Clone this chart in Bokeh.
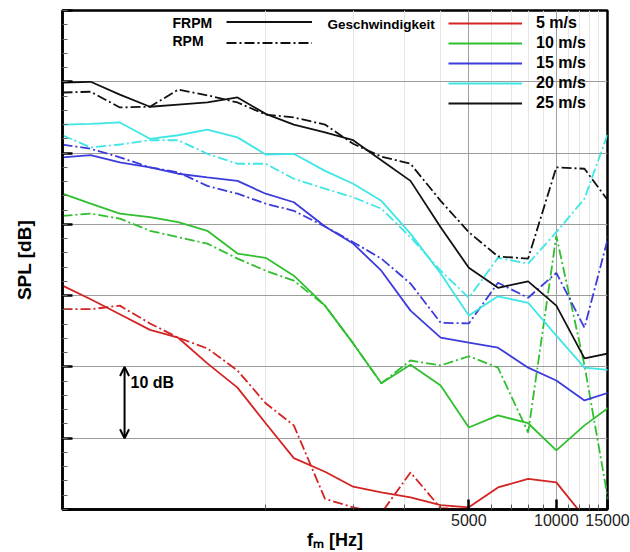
from bokeh.plotting import figure
from bokeh.models import (Range1d, FixedTicker, Label, Legend, LegendItem, Arrow, OpenHead)
from bokeh.embed import file_html
from bokeh.resources import INLINE

# third-octave band centre frequencies [Hz]
freq_hz = [200, 250, 315, 400, 500, 630, 800, 1000, 1250, 1600, 2000,
           2500, 3150, 4000, 5000, 6300, 8000, 10000, 12500, 16000]

speeds = ["5 m/s", "10 m/s", "15 m/s", "20 m/s", "25 m/s"]
colors = ["#d42323", "#2fbf2f", "#3c3cdc", "#3ee6e6", "#111111"]

# FRPM (solid) SPL [dB]
frpm_5 = [31.4, 29.5, 27.4, 25.2, 24.1, 20.5, 17.1, 12.1, 7.2, 5.3, 3.2,
          2.4, 1.7, 0.6, 0.3, 3.1, 4.3, 3.8, -1.1, -6.0]
frpm_10 = [44.3, 42.9, 41.5, 41.0, 40.3, 39.1, 35.9, 35.3, 32.8, 28.6, 23.3,
           17.7, 20.3, 17.4, 11.5, 13.2, 12.1, 8.3, 11.8, 15.0]
frpm_15 = [49.4, 49.7, 48.7, 48.0, 47.1, 46.6, 46.1, 44.3, 43.1, 39.7, 37.3,
           33.5, 27.9, 24.1, 23.4, 22.7, 19.9, 18.1, 15.3, 16.7]
frpm_20 = [54.0, 54.1, 54.3, 52.0, 52.5, 53.3, 52.2, 49.8, 49.9, 47.5, 45.7,
           43.3, 38.7, 33.1, 27.2, 29.9, 29.0, 24.4, 19.9, 19.5]
frpm_25 = [59.9, 60.0, 58.2, 56.5, 56.8, 57.1, 57.8, 55.5, 54.0, 52.9, 51.8,
           49.0, 46.1, 39.6, 33.9, 31.1, 32.0, 28.6, 21.2, 22.1]

# RPM (dash-dot) SPL [dB]
rpm_5 = [28.1, 28.1, 28.6, 26.1, 24.1, 22.6, 19.5, 14.9, 11.8, 1.5, 0.3,
         -0.5, 5.2, 0.2, 0.0, -4.0, -4.0, -4.0, -5.0, -5.0]
rpm_10 = [41.2, 41.5, 40.8, 39.1, 38.2, 37.3, 35.2, 33.5, 32.1, 28.6, 23.3,
          17.7, 20.9, 20.2, 21.5, 19.9, 10.8, 38.4, 20.2, -4.6]
rpm_15 = [51.2, 50.6, 49.4, 48.0, 47.3, 45.4, 44.3, 42.9, 41.9, 39.7, 37.5,
          35.2, 31.7, 26.2, 26.1, 31.8, 29.7, 33.2, 25.5, 42.2]
rpm_20 = [52.5, 50.8, 51.2, 51.8, 51.8, 49.9, 48.5, 48.5, 46.4, 45.0, 43.8,
          42.2, 38.2, 33.5, 29.7, 35.3, 34.5, 38.9, 43.6, 55.8]
rpm_25 = [58.5, 58.6, 56.4, 56.5, 58.9, 58.1, 57.1, 55.4, 55.0, 54.0, 51.3,
          49.5, 48.5, 43.3, 38.9, 35.5, 35.2, 48.0, 47.8, 41.9]

frpm_series = [frpm_5, frpm_10, frpm_15, frpm_20, frpm_25]
rpm_series = [rpm_5, rpm_10, rpm_15, rpm_20, rpm_25]

x_tick_values = [5000, 10000, 15000]
x_tick_labels = ["5000", "10000", "15000"]
x_minor_ticks = [1000, 2000, 3000, 4000, 6000, 7000, 8000, 9000,
                 11000, 12000, 13000, 14000]
x_grid_major = [5000, 10000]
y_major = list(range(0, 71, 10))
y_minor = list(range(0, 71, 2))

FONT = "Liberation Sans"

p = figure(width=630, height=552, x_axis_type="log",
           x_range=Range1d(200, 15000), y_range=Range1d(0, 70),
           output_backend="svg", toolbar_location=None,
           min_border_left=62, min_border_right=23, min_border_top=10,
           min_border_bottom=43)
p.background_fill_color = "white"
p.border_fill_color = "white"
p.outline_line_color = "black"
p.outline_line_width = 2.5

# x axis
xa = p.xaxis[0]
xa.ticker = FixedTicker(ticks=x_tick_values, minor_ticks=x_minor_ticks)
xa.major_label_overrides = {v: s for v, s in zip(x_tick_values, x_tick_labels)}
xa.major_tick_in = 10
xa.major_tick_out = 0
xa.major_tick_line_width = 2.5
xa.minor_tick_in = 5
xa.minor_tick_out = 0
xa.minor_tick_line_color = "#555555"
xa.axis_line_width = 2.5
xa.major_label_standoff = 4
xa.major_label_text_font = FONT
xa.major_label_text_font_size = "16px"
xa.major_label_text_color = "#222222"
xa.axis_label = "f\u2098 [Hz]"
xa.axis_label_text_font = FONT
xa.axis_label_text_font_style = "bold"
xa.axis_label_text_font_size = "18px"
xa.axis_label_text_color = "black"
xa.axis_label_standoff = 1

# y axis
ya = p.yaxis[0]
ya.ticker = FixedTicker(ticks=y_major, minor_ticks=y_minor)
ya.major_label_overrides = {v: "" for v in y_major}
ya.major_label_standoff = 0
ya.major_tick_in = 10
ya.major_tick_out = 0
ya.major_tick_line_width = 2.5
ya.minor_tick_in = 5
ya.minor_tick_out = 0
ya.minor_tick_line_color = "#666666"
ya.axis_line_width = 2.5
ya.axis_label = "SPL [dB]"
ya.axis_label_text_font = FONT
ya.axis_label_text_font_style = "bold"
ya.axis_label_text_font_size = "19px"
ya.axis_label_text_color = "black"
ya.axis_label_standoff = 28

# grids
p.xgrid.ticker = FixedTicker(ticks=x_grid_major, minor_ticks=x_minor_ticks)
p.xgrid.grid_line_color = "#a0a0a0"
p.xgrid.minor_grid_line_color = "#e6e6e6"
p.ygrid.ticker = FixedTicker(ticks=y_major)
p.ygrid.grid_line_color = "#9c9c9c"

frpm_r = []
rpm_r = []
for col, fs, rs in zip(colors, frpm_series, rpm_series):
    r1 = p.line(freq_hz, fs, line_color=col, line_width=1.8)
    r2 = p.line(freq_hz, rs, line_color=col, line_width=1.8, line_dash="10 3 2 3")
    frpm_r.append(r1)
    rpm_r.append(r2)

# legend: speeds
leg_speed = Legend(items=[LegendItem(label=s, renderers=[r]) for s, r in zip(speeds, frpm_r)],
                   location=(386, 396), orientation="vertical",
                   glyph_width=74, glyph_height=20, label_height=20, spacing=0,
                   padding=0, margin=0, label_standoff=14,
                   border_line_color=None, background_fill_alpha=0,
                   label_text_font=FONT, label_text_font_style="bold",
                   label_text_font_size="16px", label_text_color="black")
p.add_layout(leg_speed)

# legend: model
leg_model = Legend(items=[LegendItem(label=" ", renderers=[frpm_r[4]]),
                          LegendItem(label=" ", renderers=[rpm_r[4]])],
                   location=(164, 456), orientation="vertical",
                   glyph_width=86, glyph_height=21, label_height=21, spacing=0,
                   padding=0, margin=0, label_standoff=2,
                   border_line_color=None, background_fill_alpha=0,
                   label_text_font_size="14px")
p.add_layout(leg_model)

def lab(text, x, y, size, align="left", baseline="middle"):
    p.add_layout(Label(x=x, y=y, x_units="screen", y_units="screen", text=text,
                       text_font=FONT, text_font_style="bold", text_font_size=size,
                       text_align=align, text_baseline=baseline, text_color="black"))

lab("FRPM", 110, 487, "14px")
lab("RPM", 110, 469, "14px")
lab("Geschwindigkeit", 265, 485, "13.5px")
lab("10 dB", 68, 127, "16px")

# 10 dB scale arrow
arrow_x = 327
p.add_layout(Arrow(x_start=arrow_x, y_start=20, x_end=arrow_x, y_end=10,
                   start=OpenHead(size=9, line_width=2), end=OpenHead(size=9, line_width=2),
                   line_width=2, line_color="black"))

open("out.html", "w").write(file_html(p, INLINE))
